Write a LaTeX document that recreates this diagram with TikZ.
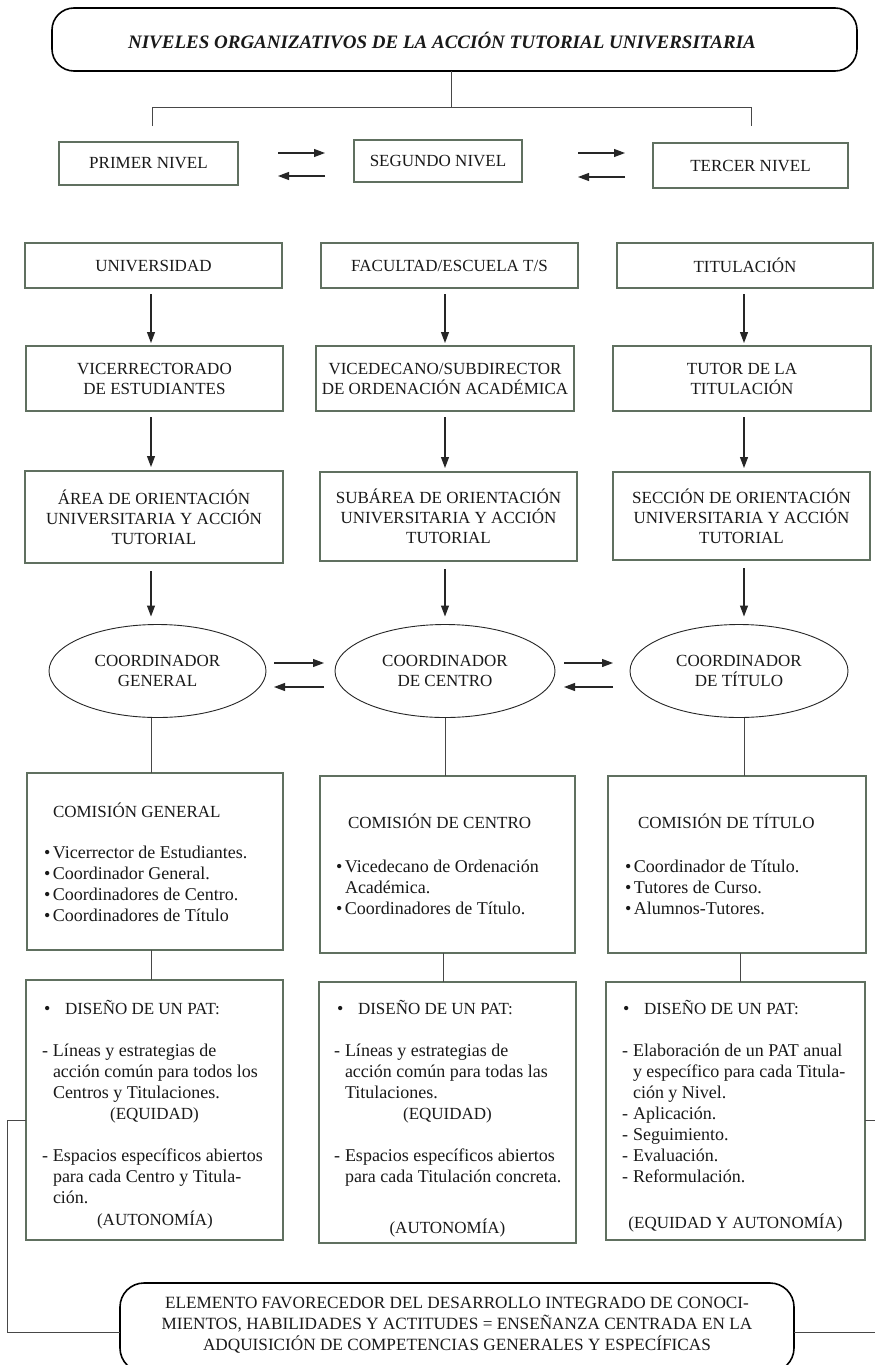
\documentclass[tikz,border=0pt]{standalone}
\usepackage{fontspec}
\setmainfont{Liberation Serif}
\usetikzlibrary{arrows.meta,shapes.geometric}
\definecolor{boxc}{RGB}{96,112,96}
\definecolor{linec}{RGB}{72,72,72}
\definecolor{txt}{RGB}{25,25,25}
\newcommand{\capsfnt}{\fontsize{17pt}{20pt}\selectfont}
\newcommand{\bodyfnt}{\fontsize{18pt}{21pt}\selectfont}
\newcommand{\titlefnt}{\fontsize{19pt}{22pt}\selectfont\bfseries\itshape}
\newcommand{\bul}{\makebox[9pt][l]{•}}
\newcommand{\bigbul}{\makebox[21pt][l]{•}}
\newcommand{\dsh}{\makebox[11pt][l]{-}}
\newcommand{\ind}{\hspace*{11pt}}
\begin{document}
\begin{tikzpicture}[x=1pt,y=-1pt,
  every node/.style={text=txt, inner sep=0pt, outer sep=0pt},
  lbox/.style={draw=boxc, line width=1.1pt, rectangle, align=center, font=\capsfnt},
  rbox/.style={draw=black, line width=1.6pt, rectangle, rounded corners=24pt},
  ell/.style={draw=black!85, line width=0.9pt, ellipse, align=center, font=\capsfnt},
  conn/.style={draw=linec, line width=1pt},
  arr/.style={draw=black!85, line width=1.1pt, -{Triangle[length=11pt,width=8pt]}},
  lst/.style={anchor=base west},
  ctr/.style={anchor=base, font=\capsfnt}]
\useasboundingbox (0,0) rectangle (875,1365);
\fill[white] (0,0) rectangle (875,1365);

% title
\node[rbox, minimum width=805pt, minimum height=63pt, rounded corners=22pt] (title) at (454.5,39.5) {};
\node (titletext) at (442,40) {\titlefnt NIVELES ORGANIZATIVOS DE LA ACCIÓN TUTORIAL UNIVERSITARIA};

\coordinate (j0) at (451,107);
\coordinate (jl0) at (152,107);
\coordinate (jr0) at (751,107);
\coordinate (jl1) at (152,126);
\coordinate (jr1) at (751,126);
\draw[conn] (title.south -| j0) -- (j0);
\draw[conn] (jl1) -- (jl0) -- (jr0) -- (jr1);

% levels
\node[lbox, minimum width=179pt, minimum height=43pt] (p1) at (148.5,163.5) {PRIMER NIVEL};
\node[lbox, minimum width=168pt, minimum height=42pt] (p2) at (438,161) {SEGUNDO NIVEL};
\node[lbox, minimum width=195pt, minimum height=45pt] (p3) at (750.5,165.5) {TERCER NIVEL};
\coordinate (h1a) at (278,153); \coordinate (h1b) at (325,153);
\coordinate (h2a) at (325,176); \coordinate (h2b) at (278,176);
\coordinate (h3a) at (578,153); \coordinate (h3b) at (625,153);
\coordinate (h4a) at (625,177); \coordinate (h4b) at (578,177);
\draw[arr] (h1a) -- (h1b);
\draw[arr] (h2a) -- (h2b);
\draw[arr] (h3a) -- (h3b);
\draw[arr] (h4a) -- (h4b);

% columns
\coordinate (cx1) at (151,0);
\coordinate (cx2) at (445,0);
\coordinate (cx3) at (744,0);

\node[lbox, minimum width=257pt, minimum height=45pt] (u1) at (153.5,265.5) {UNIVERSIDAD};
\node[lbox, minimum width=257pt, minimum height=45pt] (u2) at (449.5,265.5) {FACULTAD/ESCUELA T/S};
\node[lbox, minimum width=256pt, minimum height=45pt] (u3) at (745,265.5) {TITULACIÓN};

\node[lbox, minimum width=257pt, minimum height=65pt] (v1) at (154.5,378.5) {VICERRECTORADO\\DE ESTUDIANTES};
\node[lbox, minimum width=258pt, minimum height=65pt] (v2) at (445,378.5) {VICEDECANO/SUBDIRECTOR\\DE ORDENACIÓN ACADÉMICA};
\node[lbox, minimum width=258pt, minimum height=65pt] (v3) at (742,378.5) {TUTOR DE LA\\TITULACIÓN};

\node[lbox, minimum width=258pt, minimum height=92pt] (a1) at (154,517) {ÁREA DE ORIENTACIÓN\\UNIVERSITARIA Y ACCIÓN\\TUTORIAL};
\node[lbox, minimum width=257pt, minimum height=89pt] (a2) at (448.5,516.5) {SUBÁREA DE ORIENTACIÓN\\UNIVERSITARIA Y ACCIÓN\\TUTORIAL};
\node[lbox, minimum width=257pt, minimum height=88pt] (a3) at (741.5,516) {SECCIÓN DE ORIENTACIÓN\\UNIVERSITARIA Y ACCIÓN\\TUTORIAL};

\node[ell, minimum width=217pt, minimum height=93pt] (e1) at (157.5,671) {COORDINADOR\\GENERAL};
\node[ell, minimum width=220pt, minimum height=93pt] (e2) at (445,671) {COORDINADOR\\DE CENTRO};
\node[ell, minimum width=218pt, minimum height=93pt] (e3) at (739,671) {COORDINADOR\\DE TÍTULO};

\foreach \c/\i in {cx1/1,cx2/2,cx3/3}{
  \draw[arr, shorten <=6pt, shorten >=3pt] (u\i.south -| \c) -- (v\i.north -| \c);
  \draw[arr, shorten <=6pt, shorten >=4pt] (v\i.south -| \c) -- (a\i.north -| \c);
  \draw[arr, shorten <=8pt, shorten >=8pt] (a\i.south -| \c) -- (e\i.north -| \c);
}

\coordinate (g1a) at (274,663); \coordinate (g1b) at (324,663);
\coordinate (g2a) at (324,687); \coordinate (g2b) at (274,687);
\coordinate (g3a) at (564,663); \coordinate (g3b) at (613,663);
\coordinate (g4a) at (613,687); \coordinate (g4b) at (564,687);
\draw[arr] (g1a) -- (g1b);
\draw[arr] (g2a) -- (g2b);
\draw[arr] (g3a) -- (g3b);
\draw[arr] (g4a) -- (g4b);

% comisiones
\node[lbox, minimum width=256pt, minimum height=177pt] (k1) at (155,861.5) {};
\node[lbox, minimum width=255pt, minimum height=177pt] (k2) at (447.5,864.5) {};
\node[lbox, minimum width=258pt, minimum height=177pt] (k3) at (737,864.5) {};

\draw[conn] (e1.south -| cx1) -- (k1.north -| cx1);
\draw[conn] (e2.south -| cx2) -- (k2.north -| cx2);
\draw[conn] (e3.south -| cx3) -- (k3.north -| cx3);

\node[lst, font=\capsfnt] (k1h) at (53,817) {COMISIÓN GENERAL};
\node[lst, font=\capsfnt] (k2h) at (348,828) {COMISIÓN DE CENTRO};
\node[lst, font=\capsfnt] (k3h) at (638,828) {COMISIÓN DE TÍTULO};

\node[lst] (k1t) at (44,858) {\parbox[t]{236pt}{\bodyfnt
  \bul Vicerrector de Estudiantes.\\
  \bul Coordinador General.\\
  \bul Coordinadores de Centro.\\
  \bul Coordinadores de Título}};
\node[lst] (k2t) at (336,872) {\parbox[t]{236pt}{\bodyfnt
  \bul Vicedecano de Ordenación\\
  \hspace*{9pt}Académica.\\
  \bul Coordinadores de Título.}};
\node[lst] (k3t) at (625,872) {\parbox[t]{236pt}{\bodyfnt
  \bul Coordinador de Título.\\
  \bul Tutores de Curso.\\
  \bul Alumnos-Tutores.}};

% diseño
\coordinate (cy2) at (443,0);
\coordinate (cy3) at (740,0);
\node[lbox, minimum width=257pt, minimum height=260pt] (d1) at (154.5,1110) {};
\node[lbox, minimum width=257pt, minimum height=261pt] (d2) at (447.5,1112.5) {};
\node[lbox, minimum width=259pt, minimum height=258pt] (d3) at (735.5,1111) {};
\draw[conn] (k1.south -| cx1) -- (d1.north -| cx1);
\draw[conn] (k2.south -| cy2) -- (d2.north -| cy2);
\draw[conn] (k3.south -| cy3) -- (d3.north -| cy3);

\node[lst] (d1h) at (44,1014) {\bodyfnt\bigbul{\capsfnt DISEÑO DE UN PAT:}};
\node[lst] (d2h) at (337,1014) {\bodyfnt\bigbul{\capsfnt DISEÑO DE UN PAT:}};
\node[lst] (d3h) at (623,1014) {\bodyfnt\bigbul{\capsfnt DISEÑO DE UN PAT:}};

\node[lst] (d1t) at (42,1056) {\parbox[t]{238pt}{\bodyfnt
  \dsh Líneas y estrategias de\\
  \ind acción común para todos los\\
  \ind Centros y Titulaciones.\\[42pt]
  \dsh Espacios específicos abiertos\\
  \ind para cada Centro y Titula-\\
  \ind ción.}};
\node[ctr] (d1e) at (154.5,1119) {(EQUIDAD)};
\node[ctr] (d1a) at (155,1225) {(AUTONOMÍA)};

\node[lst] (d2t) at (334,1056) {\parbox[t]{238pt}{\bodyfnt
  \dsh Líneas y estrategias de\\
  \ind acción común para todas las\\
  \ind Titulaciones.\\[42pt]
  \dsh Espacios específicos abiertos\\
  \ind para cada Titulación concreta.}};
\node[ctr] (d2e) at (447.5,1119) {(EQUIDAD)};
\node[ctr] (d2a) at (447.5,1233) {(AUTONOMÍA)};

\node[lst] (d3t) at (622,1056) {\parbox[t]{240pt}{\bodyfnt
  \dsh Elaboración de un PAT anual\\
  \ind y específico para cada Titula-\\
  \ind ción y Nivel.\\
  \dsh Aplicación.\\
  \dsh Seguimiento.\\
  \dsh Evaluación.\\
  \dsh Reformulación.}};
\node[ctr] (d3a) at (735.5,1228) {(EQUIDAD Y AUTONOMÍA)};

% bottom
\node[rbox, minimum width=674pt, minimum height=89pt] (bot) at (457,1327.5) {};
\node[align=center, font=\fontsize{17.2pt}{21pt}\selectfont] (bott) at (457,1325) {ELEMENTO FAVORECEDOR DEL DESARROLLO INTEGRADO DE CONOCI-\\MIENTOS, HABILIDADES Y ACTITUDES = ENSEÑANZA CENTRADA EN LA\\ADQUISICIÓN DE COMPETENCIAS GENERALES Y ESPECÍFICAS};

\coordinate (sl1) at (7,1120); \coordinate (sl2) at (7,1332);
\coordinate (sr1) at (878,1120); \coordinate (sr2) at (878,1332);
\draw[conn] (d1.west |- sl1) -- (sl1) -- (sl2) -- (bot.west |- sl2);
\draw[conn] (d3.east |- sr1) -- (sr1) -- (sr2) -- (bot.east |- sr2);
\end{tikzpicture}
\end{document}
